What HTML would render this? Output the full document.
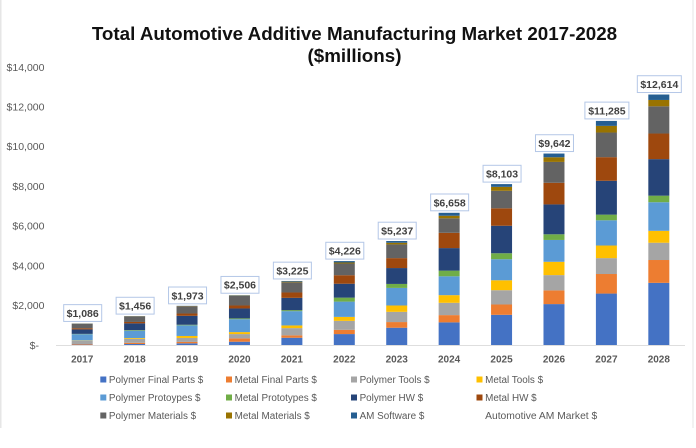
<!DOCTYPE html>
<html>
<head>
<meta charset="utf-8">
<title>Total Automotive Additive Manufacturing Market 2017-2028</title>
<style>
html,body{margin:0;padding:0;background:#fff;width:696px;height:448px;overflow:hidden}
svg{display:block;font-family:"Liberation Sans",sans-serif;filter:blur(0.35px)}
</style>
</head>
<body>
<svg id="chart" xmlns="http://www.w3.org/2000/svg" width="696" height="448" viewBox="0 0 696 448">
<rect x="0" y="0" width="696" height="448" fill="#ffffff"/>
<rect x="0" y="0" width="1.5" height="428" fill="#e6e6e6"/>
<rect x="692.5" y="0" width="1" height="428" fill="#e6e6e6"/>
<text x="354.5" y="40" text-anchor="middle" font-size="18.8" font-weight="bold" fill="#111111">Total Automotive Additive Manufacturing Market 2017-2028</text>
<text x="354.5" y="62" text-anchor="middle" font-size="18.8" font-weight="bold" fill="#111111">($millions)</text>
<g id="y-axis"></g>
<g id="bars"></g>
<line x1="56" y1="345.5" x2="685" y2="345.5" stroke="#dedede" stroke-width="1"/>
<g id="x-axis"></g>
<g id="labels"></g>
<g id="legend"></g>
</svg>
<script>
const categories = ['2017','2018','2019','2020','2021','2022','2023','2024','2025','2026','2027','2028'];
const yTicks = [0,2000,4000,6000,8000,10000,12000,14000];
const polymerFinalParts = [20,50,85,165,365,550,870,1140,1520,2060,2590,3130];
const metalFinalParts = [30,60,70,170,120,215,285,365,520,690,985,1150];
const polymerTools = [170,200,200,215,365,450,515,620,720,770,800,870];
const metalTools = [15,40,100,100,135,200,320,385,500,670,635,600];
const polymerPrototypes = [310,370,535,650,720,770,885,950,1060,1100,1270,1440];
const metalPrototypes = [15,30,30,40,50,200,200,285,300,285,285,330];
const polymerHW = [225,340,450,500,620,700,800,1135,1385,1505,1705,1840];
const metalHW = [60,70,115,150,270,430,500,770,880,1090,1190,1290];
const polymerMaterials = [225,280,370,480,510,590,690,730,880,1050,1240,1370];
const metalMaterials = [8,10,10,18,35,50,85,130,200,235,335,320];
const amSoftware = [8,6,8,18,35,71,87,148,138,187,250,274];
const marketTotals = [1086,1456,1973,2506,3225,4226,5237,6658,8103,9642,11285,12614];

const seriesList = [
  {name:'Polymer Final Parts $', values:polymerFinalParts, color:'#4472c4'},
  {name:'Metal Final Parts $', values:metalFinalParts, color:'#ed7d31'},
  {name:'Polymer Tools $', values:polymerTools, color:'#a5a5a5'},
  {name:'Metal Tools $', values:metalTools, color:'#ffc000'},
  {name:'Polymer Protoypes $', values:polymerPrototypes, color:'#5b9bd5'},
  {name:'Metal Prototypes $', values:metalPrototypes, color:'#70ad47'},
  {name:'Polymer HW $', values:polymerHW, color:'#264478'},
  {name:'Metal HW $', values:metalHW, color:'#9e480e'},
  {name:'Polymer Materials $', values:polymerMaterials, color:'#636363'},
  {name:'Metal Materials $', values:metalMaterials, color:'#997300'},
  {name:'AM Software $', values:amSoftware, color:'#255e91'}
];

const NS = 'http://www.w3.org/2000/svg';
function make(tag, attrs, parent, text) {
  const el = document.createElementNS(NS, tag);
  for (const k in attrs) el.setAttribute(k, attrs[k]);
  if (text !== undefined) el.textContent = text;
  parent.appendChild(el);
  return el;
}
function slug(s) {
  return s.replace(/\$/g, '').trim().toLowerCase().replace(/\s+/g, '-');
}
function money(v) {
  return '$' + v.toLocaleString('en-US');
}
function yScale(v) {
  return 345 - v * (278 / 14000);
}
function xScale(i) {
  return 82.2 + i * 52.42;
}

const BAR_W = 21;
const yAxis = document.getElementById('y-axis');
yTicks.forEach(function (t) {
  const label = make('text', {x: t === 0 ? 39 : 44.5, y: yScale(t) + 3.8, 'text-anchor': 'end', 'font-size': 10.5, fill: '#595959'}, yAxis, t === 0 ? '$-' : money(t));
  
  
});

const xAxis = document.getElementById('x-axis');
categories.forEach(function (c, i) {
  const label = make('text', {x: xScale(i), y: 362.5, 'text-anchor': 'middle', 'font-size': 10, 'font-weight': 'bold', fill: '#595959'}, xAxis, c);
  
  
});

const bars = document.getElementById('bars');
categories.forEach(function (c, i) {
  let running = 0;
  seriesList.forEach(function (s) {
    const v = s.values[i];
    const top = yScale(running + v);
    const bottom = yScale(running);
    const seg = make('rect', {x: xScale(i) - BAR_W / 2, y: top, width: BAR_W, height: bottom - top, fill: s.color}, bars);
    
    
    running += v;
  });
});

const labels = document.getElementById('labels');
marketTotals.forEach(function (v, i) {
  const txt = money(v);
  const w = v >= 10000 ? 44 : 38;
  const boxBottom = yScale(v) - 2;
  const cx = xScale(i) + 0.5;
  const box = make('rect', {x: cx - w / 2, y: boxBottom - 16.8, width: w, height: 16.8, fill: '#ffffff', stroke: '#b4c7e7', 'stroke-width': 1}, labels);
  
  
  const t = make('text', {x: cx, y: boxBottom - 4.5, 'text-anchor': 'middle', 'font-size': 10.5, 'font-weight': 'bold', fill: '#404040'}, labels, txt);
  
  
});

const legend = document.getElementById('legend');
const legendColumns = [100.3, 226, 351, 476.5];
const legendRows = [379.5, 397.5, 415.5];
const legendNames = seriesList.map(function (s) { return s.name; }).concat(['Automotive AM Market $']);
legendNames.forEach(function (name, i) {
  const col = legendColumns[i % 4];
  const row = legendRows[Math.floor(i / 4)];
  if (i < seriesList.length) {
    const sw = make('rect', {x: col, y: row - 3, width: 6, height: 6, fill: seriesList[i].color}, legend);
    
    
  }
  const t = make('text', {x: col + 8.6, y: row + 3.6, 'font-size': i < seriesList.length ? 9.9 : 10.3, fill: '#595959'}, legend, name);
  
  
});
</script>
</body>
</html>
